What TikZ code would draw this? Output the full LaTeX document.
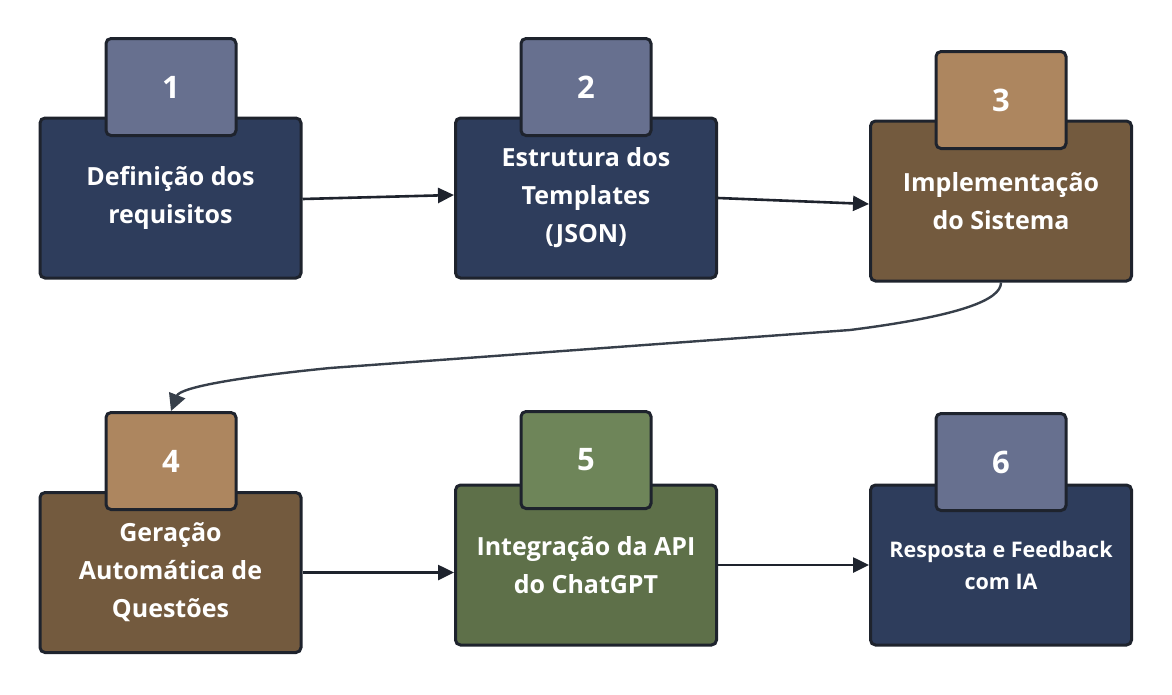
\documentclass[tikz,border=0pt]{standalone}
\usepackage{fontspec}
\setmainfont{Open Sans}
\usetikzlibrary{arrows.meta}
\definecolor{navy}{HTML}{2E3D5C}
\definecolor{slate}{HTML}{67708F}
\definecolor{bark}{HTML}{735A3E}
\definecolor{sand}{HTML}{AD865F}
\definecolor{moss}{HTML}{5E7049}
\definecolor{fern}{HTML}{6E8559}
\definecolor{edge}{HTML}{1E232D}
\definecolor{wire}{HTML}{373F4A}
\tikzset{
  stage/.style={draw=edge, line width=3pt, rounded corners=5pt, minimum width=261pt,
    minimum height=160pt, text=white, align=center, font=\bfseries\fontsize{25}{38}\selectfont},
  tab/.style={draw=edge, line width=3pt, rounded corners=5pt, minimum width=130pt,
    minimum height=97pt, text=white, font=\bfseries\fontsize{31}{36}\selectfont},
  flow/.style={-{Triangle[length=16pt,width=15pt]}, line width=2.6pt, draw=edge}
}
\begin{document}
\begin{tikzpicture}[x=1pt,y=-1pt]
  \useasboundingbox (0,0) rectangle (1172,694);
  % row one
  \node[stage, fill=navy] (s1) at (170.5,198) {Definição dos\\requisitos};
  \node[stage, fill=navy] (s2) at (586,198) {Estrutura dos\\Templates\\(JSON)};
  \node[stage, fill=bark] (s3) at (1001,201) {Implementação\\do Sistema};
  \node[tab, fill=slate] (t1) at (171,87) {1};
  \node[tab, fill=slate] (t2) at (586,87) {2};
  \node[tab, fill=sand] (t3) at (1001,100) {3};
  % row two
  \node[stage, fill=bark] (s4) at (170.5,572.5) {Geração\\Automática de\\Questões};
  \node[stage, fill=moss] (s5) at (586,565) {Integração da API\\do ChatGPT};
  \node[stage, fill=navy, font=\bfseries\fontsize{21.5}{32}\selectfont] (s6) at (1001,565) {Resposta e Feedback\\com IA};
  \node[tab, fill=sand] (t4) at (171,461) {4};
  \node[tab, fill=fern] (t5) at (586,460) {5};
  \node[tab, fill=slate] (t6) at (1001,462) {6};
  % connectors
  \draw[flow] ([yshift=-1pt]s1.east) -- ([yshift=3pt]s2.west);
  \draw[flow] (s2.east) -- ([yshift=-3pt]s3.west);
  \draw[flow] (s4.east) -- (s5.west |- s4.east);
  \draw[flow] (s5.east) -- (s6.west);
  \draw[-{Triangle[length=17pt,width=17pt]}, line width=2.4pt, draw=wire]
    (s3.south) .. controls (1001,300) and (960,316) .. (850,330)
    -- (330,368) .. controls (230,378) and (180,388) .. (t4.north);
\end{tikzpicture}
\end{document}
